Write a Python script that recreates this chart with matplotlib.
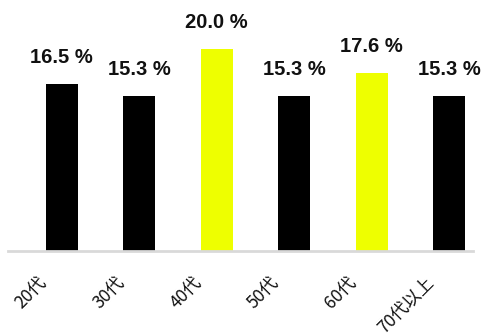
import matplotlib
matplotlib.use("Agg")
import matplotlib.pyplot as plt
import matplotlib.transforms as mtransforms

plt.rcParams['font.family'] = ['Liberation Sans', 'Noto Sans CJK JP', 'DejaVu Sans']

categories = ["20代", "30代", "40代", "50代", "60代", "70代以上"]
values = [16.5, 15.3, 20.0, 15.3, 17.6, 15.3]
colors = ["#000000", "#000000", "#EEFF00", "#000000", "#EEFF00", "#000000"]
value_labels = [f"{v:.1f} %" for v in values]

W, H = 488, 334
fig = plt.figure(figsize=(W / 100, H / 100), dpi=100)
ax = fig.add_axes([8 / W, (H - 251) / H, 465 / W, 251 / H])

x = list(range(len(categories)))
off = 15 / 77.5
ax.bar(x, values, width=0.41, color=colors, zorder=2)
ax.set_xlim(-0.5 - off, len(categories) - 0.5 - off)
ax.set_ylim(0, 24.85)

for xi, v, lab in zip(x, values, value_labels):
    ax.text(xi, v + 2.1, lab, ha='center', va='baseline', fontsize=14.5,
            fontweight='bold', color='#111111')

for s in ['top', 'right', 'left']:
    ax.spines[s].set_visible(False)
ax.spines['bottom'].set_color('#d9d9d9')
ax.spines['bottom'].set_linewidth(2)
ax.set_yticks([])
ax.set_xticks(x)
ax.set_xticklabels(categories, rotation=45, ha='right', rotation_mode='anchor',
                   fontsize=12.5, color='#111111',
                   family=['Noto Sans CJK JP', 'DejaVu Sans'])
ax.tick_params(axis='x', length=0, pad=14)
shift = mtransforms.ScaledTranslation(-24 / 100, -3 / 100, fig.dpi_scale_trans)
for t in ax.get_xticklabels():
    t.set_transform(t.get_transform() + shift)

fig.savefig("out.png", dpi=100)
